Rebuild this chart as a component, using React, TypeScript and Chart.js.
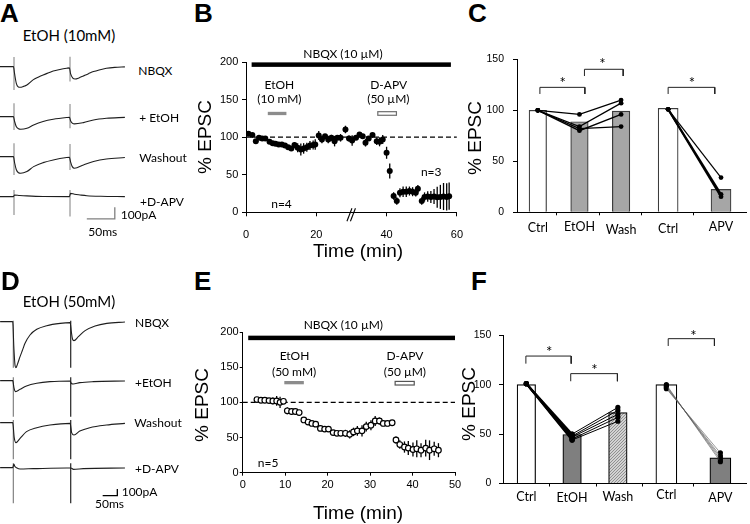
import React, { useEffect, useRef } from 'react';
import { Chart, registerables } from 'chart.js';

Chart.register(...registerables);

const ARIAL = "'Liberation Sans', Arial, sans-serif";
const LATO = "Lato, 'Open Sans', sans-serif";
Chart.defaults.font.family = ARIAL;
Chart.defaults.color = '#000';

// ---------------- Panel A / D traces: [time (ms), current (pA)] ----------------
const A_NBQX = [[-25,0],[-1,0],[1,-60],[4,-140],[7,-170],[11,-176],[17,-168],[23,-156],[34,-113],[44,-88],[52,-71],[62,-52],[70,-37],[82,-24],[94,-14],[99,-11],[101,-60],[105,-98],[109,-105],[116,-96],[124,-79],[133,-60],[142,-42],[152,-28],[165,-14],[180,-6],[198,-2]];
const A_ETOH = [[-25,0],[-1,0],[1,-40],[4,-85],[8,-103],[12,-107],[23,-99],[35,-71],[52,-42],[70,-23],[94,-8],[99,-6],[101,-35],[104,-55],[108,-62],[124,-51],[142,-28],[165,-14],[198,-6]];
const A_WASH = [[-25,0],[-1,0],[1,-50],[4,-110],[8,-138],[12,-142],[23,-127],[35,-85],[52,-51],[70,-28],[94,-8],[99,-6],[101,-45],[104,-85],[108,-99],[124,-71],[142,-42],[165,-20],[198,-8]];
const A_APV = [[-25,0],[-1,0],[1,14],[10,10],[23,6],[52,1],[99,0],[101,28],[108,20],[118,14],[130,8],[155,3],[198,0]];
// stimulus artifacts: [time, top, bottom]
const A_ART_NBQX = [[0,82,-198],[100,85,-127]];
const A_ART_ETOH = [[0,113,-113],[100,107,-99]];
const A_ART_WASH = [[0,113,-156],[100,107,-113]];
const A_ART_APV = [[0,57,-156],[100,57,-170]];
const A_SCALEBAR = [[130,-190],[180,-190],[180,-90]]; // 50 ms, 100 pA

const D_NBQX = [[-45,0],[-2,0],[2,-400],[6,-660],[9,-690],[14,-640],[23,-525],[32,-420],[40,-325],[57,-200],[80,-115],[114,-60],[160,-25],[194,-15],[198,-150],[202,-260],[207,-285],[222,-225],[245,-135],[279,-65],[319,-25],[381,-5]];
const D_ETOH = [[-45,0],[-2,0],[2,-100],[5,-150],[8,-165],[23,-130],[45,-80],[80,-40],[125,-15],[194,-5],[198,-40],[204,-50],[227,-30],[273,-15],[381,-5]];
const D_WASH = [[-45,0],[-2,0],[3,-220],[9,-300],[23,-235],[45,-135],[80,-75],[125,-35],[194,-10],[199,-150],[207,-185],[227,-125],[261,-75],[318,-35],[381,-10]];
const D_APV = [[-45,0],[-2,0],[2,55],[5,20],[11,0],[23,-20],[68,-15],[182,-5],[194,-5],[199,-10],[205,-25],[239,-15],[381,-5]];
const D_ART_NBQX = [[0,15,-690],[196,15,-690]];
const D_ART_ETOH = [[0,50,-540],[196,50,-540]];
const D_ART_WASH = [[0,40,-550],[196,40,-550]];
const D_ART_APV = [[0,65,-535],[196,65,-535]];
const D_SCALEBAR = [[305,-420],[355,-420],[355,-320]];

// ---------------- Panel B time course (EtOH 10 mM) ----------------
const B_TIME = [0.7,1.8,2.8,3.7,4.6,5.5,6.7,7.6,8.4,9.3,10.2,11.1,12.0,12.9,13.8,14.7,15.6,16.4,17.3,18.2,19.1,19.7,20.7,21.6,22.5,23.4,24.3,25.2,26.0,26.9,28.3,29.3,30.2,31.3,32.3,33.2,34.0,34.9,36.0,37.2,38.0,38.9,40.0,40.9,42.0,42.9,43.8,44.7,45.6,46.5,47.4,48.3,48.9,50.0,50.8,51.7,52.6,53.5,54.4,55.3,56.2,57.1,57.8];
const B_MEAN = [104.4,102.7,94.7,99.1,98.2,98.2,93.8,92,91.2,90.3,90.3,88.9,86.7,85,89.4,85.8,83.6,85,86.7,88.9,89.4,90.3,102.2,96.9,101.3,96.9,99.1,94.7,99.1,99.1,110.2,98.2,95.6,99.1,103.5,101.3,92.5,98.2,102.7,94.7,93.8,96.9,79.2,54.9,21.7,15,26.1,27.4,27.4,28.3,27.4,26.1,31.4,15,20.5,21,20.5,21,20,20.5,21,20.5,21.5];
const B_SEM = [2,2,3,3,2,2,2,2,2,2,2,3,3,3,4,6,8,7,6,6,6,7,6,5,3,5,4,7,3,5,5,4,7,3,3,3,5,3,3,5,6,6,8,10,5,5,6,7,7,6,6,5,5,5,6,7,8,10,14,16,18,18,18];

// ---------------- Panel E time course (EtOH 50 mM) ----------------
const E_TIME = [3.35,4.3,5.2,6.2,7.1,8.0,8.8,9.6,10.5,11.5,12.4,13.3,14.4,15.4,16.3,17.2,18.3,19.3,20.2,21.3,22.2,23.1,24.2,25.2,26.1,27.0,28.1,29.1,30.2,31.2,32.2,33.1,34.1,35.2,36.1,37.0,38.1,39.0,40.1,41.0,42.0,43.1,44.0,45.1,46.1];
const E_MEAN = [104,103,103,102.5,102,102,100,101.5,88,87,87,85.5,75,72,70,69,63,62,62,57,56,56,56,54.5,58,59.5,59.5,65.5,67.5,73.5,73.5,70,70,71,46.5,40,36.5,35,33,34,32,35,32,34,32];
const E_SEM = [2,2,2,3,5,7,8,4,5,5,4,3,3,3,3,4,4,4,4,3,3,4,5,6,6,7,8,7,7,7,5,4,4,4,5,6,8,10,10,12,10,12,14,10,10];

const BASELINE = 100;

// drug application bars: [start, end, level]
const B_NBQX_BAR = [1.6, 58.3, 196.5];
const B_ETOH_BAR = [6.2, 11.5, 131.5];
const B_APV_BAR = [37.5, 42.8, 131.5];
const E_NBQX_BAR = [1.3, 50, 191.6];
const E_ETOH_BAR = [9.8, 14.4, 128];
const E_APV_BAR = [35.9, 40.4, 127.2];

// annotation texts: [x, y, text]
const B_NOTES = [[27.6,211,'NBQX (10 µM)'],[9.5,169,'EtOH'],[9.5,150,'(10 mM)'],[40.6,169,'D-APV'],[40.5,150,'(50 µM)'],[10.1,11,'n=4'],[52.7,53,'n=3']];
const E_NOTES = [[23.7,209.7,'NBQX (10 µM)'],[12.2,165.6,'EtOH'],[12.1,143.2,'(50 mM)'],[38.2,165.6,'D-APV'],[38.2,143.2,'(50 µM)'],[6.0,13.8,'n=5']];
const B_BREAK = 30;

// ---------------- Panel C bars ----------------
const C_LABELS = ['Ctrl','EtOH','Wash','Ctrl','APV'];
const C_POS = [1, 2, 3, 4.13, 5.4];
const C_MEANS = [100, 88.8, 99.3, 102, 22.5];
const C_CELLS_ETOH = [[100,96,110],[100,84,107],[100,80,96],[100,82,84]];
const C_CELLS_APV = [[101,34],[101,17.6],[101,15.3]];
const C_BRACKETS = [[1.05,2.13,122.5,116],[2.12,3.05,140.2,133.6],[4.13,5.25,122.5,116]];
const C_STARS = [[1.6,129.7],[2.55,148.3],[4.7,129.7]];
const C_AXIS_TICKS = [1.445, 2.476, 3.5, 4.74];

// ---------------- Panel F bars ----------------
const F_LABELS = ['Ctrl','EtOH','Wash','Ctrl','APV'];
const F_POS = [1, 2, 3, 4.06, 5.24];
const F_MEANS = [100, 49.6, 71.8, 100, 26];
const F_CELLS_ETOH = [[101,50,77],[101,48,74],[101,47,70],[101,45,67],[101,44,63]];
const F_CELLS_APV = [[100,22],[99,24],[98,26],[97,28],[96,31]];
const F_BRACKETS = [[0.99,1.98,129,121.3],[1.97,2.99,111.2,103.5],[4.1,5.11,146.6,139.2]];
const F_STARS = [[1.5,136],[2.49,118.7],[4.65,152.7]];
const F_AXIS_TICKS = [1.515, 2.526, 3.53, 4.65];

// ---------------- styles ----------------
const C_LABEL_DY = [16, 14.7, 17.2, 16.7, 14.2];
const F_LABEL_DY = [13.2, 14.8, 13.2, 11.5, 14.2];
const C_APV_WIDTHS = [1.2, 2, 2];

const base: any = { animation: false, responsive: false, maintainAspectRatio: false, devicePixelRatio: 1, events: [] };
const noLegend = { legend: { display: false }, tooltip: { enabled: false } };

// ---------------- plugins ----------------
const errorBars = {
  id: 'errorBars',
  beforeDatasetsDraw(chart: any) {
    const ctx = chart.ctx;
    const ys = chart.scales.y;
    chart.data.datasets.forEach((ds: any, i: number) => {
      if (!ds.errors) return;
      const meta = chart.getDatasetMeta(i);
      ctx.save();
      ctx.strokeStyle = '#000';
      ctx.lineWidth = 1.3;
      meta.data.forEach((pt: any, j: number) => {
        const v = ds.data[j].y;
        const e = ds.errors[j];
        ctx.beginPath();
        ctx.moveTo(pt.x, ys.getPixelForValue(v - e));
        ctx.lineTo(pt.x, ys.getPixelForValue(v + e));
        ctx.stroke();
      });
      ctx.restore();
    });
  },
};

const texts = (items: any[]) => ({
  id: 'texts',
  afterDraw(chart: any) {
    const { ctx, scales } = chart;
    ctx.save();
    ctx.textAlign = 'center';
    ctx.textBaseline = 'middle';
    ctx.fillStyle = '#000';
    for (const it of items) {
      ctx.font = it.font;
      ctx.fillText(it.text, scales.x.getPixelForValue(it.x), scales.y.getPixelForValue(it.y) + (it.dy || 0));
    }
    ctx.restore();
  },
});

const drugBars = (items: any[]) => ({
  id: 'drugBars',
  afterDatasetsDraw(chart: any) {
    const { ctx, scales } = chart;
    ctx.save();
    for (const it of items) {
      const x0 = scales.x.getPixelForValue(it.bar[0]);
      const x1 = scales.x.getPixelForValue(it.bar[1]);
      const y = scales.y.getPixelForValue(it.bar[2]);
      ctx.fillStyle = it.fill;
      ctx.fillRect(x0, y - it.h / 2, x1 - x0, it.h);
      if (it.stroke) {
        ctx.strokeStyle = it.stroke;
        ctx.lineWidth = 1.2;
        ctx.strokeRect(x0, y - it.h / 2, x1 - x0, it.h);
      }
    }
    ctx.restore();
  },
});

const axisBreak = (at: number) => ({
  id: 'axisBreak',
  afterDraw(chart: any) {
    const { ctx, scales } = chart;
    const px = scales.x.getPixelForValue(at);
    const py = scales.y.getPixelForValue(0);
    ctx.save();
    ctx.strokeStyle = '#000';
    ctx.lineWidth = 1.1;
    for (const k of [0, 3.5]) {
      ctx.beginPath();
      ctx.moveTo(px - 4.5 + k, py + 9);
      ctx.lineTo(px + 0.5 + k, py - 4);
      ctx.stroke();
    }
    ctx.restore();
  },
});

function axis(o: any) {
  const a: any = {
    type: 'linear', min: o.min, max: o.max, offset: false,
    ticks: { padding: o.pad, font: { size: o.font, family: ARIAL }, color: '#000', maxRotation: 0, autoSkip: false },
    grid: { display: true, drawOnChartArea: false, drawTicks: true, tickLength: o.tl, color: '#000', lineWidth: 1, offset: false },
    border: { display: true, color: '#000', width: 1 },
    afterFit: (s: any) => { if (o.w != null) s.width = o.w; if (o.h != null) s.height = o.h; },
  };
  if (o.step) a.ticks.stepSize = o.step;
  if (o.ticks) {
    a.afterBuildTicks = (s: any) => { s.ticks = o.ticks.map((v: number) => ({ value: v })); };
    a.ticks.callback = () => '';
  }
  return a;
}

// ---------------- chart factories ----------------
function traceChart(trace: number[][], arts: number[][], artColors: string[], xr: number[], yr: number[], bar?: number[][], barColor?: string) {
  return () => ({
    type: 'line',
    data: {
      datasets: [
        { data: trace.map(([x, y]) => ({ x, y })), borderColor: '#1e1e1e', borderWidth: 1.1, pointRadius: 0, cubicInterpolationMode: 'monotone' },
        ...arts.map(([t, a, b], k) => ({ data: [{ x: t, y: a }, { x: t, y: b }], borderColor: artColors[k], borderWidth: 1.1, pointRadius: 0 })),
        ...(bar ? [{ data: bar.map(([x, y]) => ({ x, y })), borderColor: barColor, borderWidth: 1.3, pointRadius: 0 }] : []),
      ],
    },
    options: {
      ...base,
      layout: { padding: 0 },
      plugins: noLegend,
      scales: { x: { type: 'linear', min: xr[0], max: xr[1], display: false }, y: { type: 'linear', min: yr[0], max: yr[1], display: false } },
    },
  });
}

function timeCourse(o: any) {
  return () => ({
    type: 'line',
    data: {
      datasets: [
        {
          data: o.time.map((t: number, i: number) => ({ x: t, y: o.mean[i] })), errors: o.sem, showLine: false,
          pointRadius: o.open ? 2.8 : 3, pointBackgroundColor: o.open ? '#fff' : '#000', pointBorderColor: '#000', pointBorderWidth: o.open ? 1.2 : 0,
        },
        { data: [{ x: 0, y: BASELINE }, { x: o.xMax, y: BASELINE }], borderColor: '#000', borderWidth: 1.2, borderDash: [5, 3], pointRadius: 0 },
      ],
    },
    options: {
      ...base,
      layout: { padding: { left: 0, top: o.pt, right: o.pr, bottom: 0 } },
      plugins: noLegend,
      scales: {
        x: axis({ min: 0, max: o.xMax, step: o.xStep, pad: o.xPad, font: 11, tl: o.tl, h: o.xh }),
        y: axis({ min: 0, max: 200, step: 50, pad: o.yPad, font: 11, tl: o.tl, w: o.yw }),
      },
    },
    plugins: [errorBars, drugBars(o.bars), texts(o.notes.map(([x, y, text]: any) => ({ x, y, text, font: `12px ${LATO}` }))), ...(o.breakAt != null ? [axisBreak(o.breakAt)] : [])],
  });
}

function hatch() {
  const c = document.createElement('canvas');
  c.width = 3; c.height = 3;
  const g = c.getContext('2d') as CanvasRenderingContext2D;
  g.fillStyle = '#d2d2d2'; g.fillRect(0, 0, 3, 3);
  g.fillStyle = '#909090'; g.fillRect(2, 0, 1, 1); g.fillRect(1, 1, 1, 1); g.fillRect(0, 2, 1, 1);
  return g.createPattern(c, 'repeat');
}

function barPanel(o: any) {
  return () => {
    const colors = o.colors();
    const cellLines = [
      ...o.cellsA.map((c: number[]) => ({
        type: 'line', order: 1,
        data: c.map((v, i) => ({ x: o.pos[i], y: v })),
        borderColor: '#000', borderWidth: o.cellWidthA, pointRadius: o.ptR, pointBackgroundColor: '#000', pointBorderWidth: 0,
      })),
      ...(o.cellsA2 ? o.cellsA2.map((c: number[]) => ({
        type: 'line', order: 1,
        data: [{ x: o.pos[1], y: c[1] }, { x: o.pos[2], y: c[2] }],
        borderColor: '#000', borderWidth: 1, pointRadius: o.ptR, pointBackgroundColor: '#000', pointBorderWidth: 0,
      })) : []),
      ...o.cellsB.map((c: number[], k: number) => ({
        type: 'line', order: 1,
        data: [{ x: o.pos[3], y: c[0] }, { x: o.pos[4], y: c[1] }],
        borderColor: o.cellColorB, borderWidth: o.cellWidthsB[k], pointRadius: o.ptR, pointBackgroundColor: '#000', pointBorderWidth: 0,
      })),
    ];
    const brackets = o.brackets.map(([a, b, top, end]: number[]) => ({
      type: 'line', order: 2,
      data: [{ x: a, y: end }, { x: a, y: top }, { x: b, y: top }, { x: b, y: end }],
      borderColor: '#222', borderWidth: 1, pointRadius: 0,
    }));
    const bars = [
      { type: 'bar', order: 5, grouped: false, barThickness: o.thick[0],
        data: o.pos.slice(0, 3).map((p: number, i: number) => ({ x: p, y: o.means[i] })),
        backgroundColor: colors.slice(0, 3), borderColor: o.barBorder, borderWidth: 1.2 },
      { type: 'bar', order: 5, grouped: false, barThickness: o.thick[1],
        data: o.pos.slice(3).map((p: number, i: number) => ({ x: p, y: o.means[i + 3] })),
        backgroundColor: colors.slice(3), borderColor: o.barBorder, borderWidth: 1.2 },
    ];
    const notes = [
      ...o.labels.map((t: string, i: number) => ({ x: o.pos[i], y: 0, dy: o.labelDy[i], text: t, font: `12.5px ${LATO}` })),
      ...o.stars.map(([x, y]: number[]) => ({ x, y, dy: 3.5, text: '*', font: `15px ${LATO}` })),
    ];
    return {
      type: 'bar',
      data: { datasets: [...cellLines, ...brackets, ...bars] },
      options: {
        ...base,
        layout: { padding: { left: 0, top: o.pt, right: o.pr, bottom: 0 } },
        plugins: noLegend,
        scales: {
          x: axis({ min: o.xr[0], max: o.xr[1], pad: 0, font: 10, tl: 3, h: o.xh, ticks: o.axisTicks }),
          y: axis({ min: 0, max: 150, step: 50, pad: o.yPad, font: 10.5, tl: 4, w: o.yw }),
        },
      },
      plugins: [texts(notes)],
    };
  };
}

// ---------------- React ----------------
function ChartBox({ left, top, width, height, make }: any) {
  const ref = useRef<HTMLCanvasElement>(null);
  useEffect(() => {
    const chart = new Chart(ref.current as HTMLCanvasElement, make());
    return () => chart.destroy();
  }, []);
  return <canvas ref={ref} width={width} height={height} style={{ position: 'absolute', left, top, width, height }} />;
}

function Label({ x, y, text, size = 12, family = LATO, weight = 400, center = false, rotate = false }: any) {
  const tx = center ? '-50%' : '0';
  return (
    <div style={{
      position: 'absolute', left: x, top: y, transform: `translate(${tx}, -50%)` + (rotate ? ' rotate(-90deg)' : ''),
      fontFamily: family, fontSize: size, fontWeight: weight, lineHeight: 1, whiteSpace: 'nowrap', color: '#000',
    }}>{text}</div>
  );
}

function Letter({ x, y, text }: any) {
  return <div style={{ position: 'absolute', left: x, top: y, fontFamily: ARIAL, fontWeight: 700, fontSize: 26, lineHeight: '26px', color: '#000' }}>{text}</div>;
}

const A_X = [-25, 198.2];
const A_Y = [-250, 150];
const D_X = [-45.4, 381.2];
const D_Y = [-755, 100];
const A_ART_COLORS = ['#8a8a8a', '#8a8a8a'];
const D_ART_COLORS = ['#777', '#111'];

export default function App() {
  return (
    <div style={{ position: 'absolute', left: 0, top: 0, width: 750, height: 524, background: '#fff', overflow: 'hidden' }}>
      {/* Panel A */}
      <ChartBox left={0} top={49} width={125} height={47} make={traceChart(A_NBQX, A_ART_NBQX, A_ART_COLORS, A_X, A_Y)} />
      <ChartBox left={0} top={99} width={125} height={47} make={traceChart(A_ETOH, A_ART_ETOH, A_ART_COLORS, A_X, A_Y)} />
      <ChartBox left={0} top={139} width={125} height={47} make={traceChart(A_WASH, A_ART_WASH, A_ART_COLORS, A_X, A_Y)} />
      <ChartBox left={0} top={179} width={125} height={47} make={traceChart(A_APV, A_ART_APV, A_ART_COLORS, A_X, A_Y, A_SCALEBAR, '#808080')} />
      {/* Panel D */}
      <ChartBox left={0} top={315} width={125} height={57} make={traceChart(D_NBQX, D_ART_NBQX, D_ART_COLORS, D_X, D_Y)} />
      <ChartBox left={0} top={374} width={125} height={57} make={traceChart(D_ETOH, D_ART_ETOH, D_ART_COLORS, D_X, D_Y)} />
      <ChartBox left={0} top={416} width={125} height={57} make={traceChart(D_WASH, D_ART_WASH, D_ART_COLORS, D_X, D_Y)} />
      <ChartBox left={0} top={461} width={125} height={57} make={traceChart(D_APV, D_ART_APV, D_ART_COLORS, D_X, D_Y, D_SCALEBAR, '#000')} />

      {/* Panel B */}
      <ChartBox left={190} top={40} width={285} height={222} make={timeCourse({
        time: B_TIME, mean: B_MEAN, sem: B_SEM, open: false, xMax: 60, xStep: 20,
        pt: 22, pr: 12, xh: 49.7, yw: 56, xPad: 12, yPad: 3.7, tl: 4, breakAt: B_BREAK, notes: B_NOTES,
        bars: [{ bar: B_NBQX_BAR, h: 4.5, fill: '#000' }, { bar: B_ETOH_BAR, h: 3.3, fill: '#8c8c8c' }, { bar: B_APV_BAR, h: 3.6, fill: '#fff', stroke: '#6e6e6e' }],
      })} />
      {/* Panel E */}
      <ChartBox left={188} top={300} width={280} height={224} make={timeCourse({
        time: E_TIME, mean: E_MEAN, sem: E_SEM, open: true, xMax: 50, xStep: 10,
        pt: 32, pr: 13, xh: 51.3, yw: 54.7, xPad: 3, yPad: 1, tl: 3, notes: E_NOTES,
        bars: [{ bar: E_NBQX_BAR, h: 4.5, fill: '#000' }, { bar: E_ETOH_BAR, h: 3.3, fill: '#8c8c8c' }, { bar: E_APV_BAR, h: 3.6, fill: '#fff', stroke: '#555' }],
      })} />

      {/* Panel C */}
      <ChartBox left={460} top={40} width={290} height={222} make={barPanel({
        labels: C_LABELS, pos: C_POS, means: C_MEANS, cellsA: C_CELLS_ETOH, cellsB: C_CELLS_APV,
        cellWidthA: 1.3, cellWidthsB: C_APV_WIDTHS, cellColorB: '#000', ptR: 2.4,
        brackets: C_BRACKETS, stars: C_STARS, axisTicks: C_AXIS_TICKS, labelDy: C_LABEL_DY,
        colors: () => ['#fff', '#a6a6a6', '#a6a6a6', '#fff', '#a6a6a6'], barBorder: '#3c3c3c', thick: [17.5, 20],
        xr: [0.5, 6.0], pt: 19.3, pr: 2, xh: 49.7, yw: 57, yPad: 9,
      })} />
      {/* Panel F */}
      <ChartBox left={455} top={300} width={295} height={224} make={barPanel({
        labels: F_LABELS, pos: F_POS, means: F_MEANS,
        cellsA: F_CELLS_ETOH.map((c) => [c[0], c[1]]), cellsA2: F_CELLS_ETOH, cellsB: F_CELLS_APV,
        cellWidthA: 2, cellWidthsB: F_CELLS_APV.map(() => 0.6), cellColorB: '#555', ptR: 2.6,
        brackets: F_BRACKETS, stars: F_STARS, axisTicks: F_AXIS_TICKS, labelDy: F_LABEL_DY,
        colors: () => ['#fff', '#7f7f7f', hatch(), '#fff', '#7f7f7f'], barBorder: '#000', thick: [18.5, 21],
        xr: [0.49, 5.8], pt: 35.3, pr: 2, xh: 40.5, yw: 48, yPad: 7.7,
      })} />

      {/* Panel letters */}
      <Letter x={0} y={0} text="A" />
      <Letter x={194} y={0} text="B" />
      <Letter x={468} y={0} text="C" />
      <Letter x={1} y={267.5} text="D" />
      <Letter x={194} y={267.5} text="E" />
      <Letter x={471} y={267.5} text="F" />

      {/* Panel A texts */}
      <Label x={22.7} y={34.5} text="EtOH (10mM)" size={15} />
      <Label x={138.3} y={70.7} text="NBQX" />
      <Label x={139.3} y={118.3} text="+ EtOH" />
      <Label x={139.3} y={158.3} text="Washout" />
      <Label x={140} y={201.7} text="+D-APV" />
      <Label x={120.7} y={215} text="100pA" />
      <Label x={88.3} y={232.3} text="50ms" />
      {/* Panel D texts */}
      <Label x={22.7} y={301} text="EtOH (50mM)" size={15} />
      <Label x={135} y={323} text="NBQX" />
      <Label x={135} y={382.7} text="+EtOH" />
      <Label x={134.3} y={423} text="Washout" />
      <Label x={135} y={468.7} text="+D-APV" />
      <Label x={121.7} y={492} text="100pA" />
      <Label x={95} y={504.3} text="50ms" />

      {/* Axis titles */}
      <Label x={204} y={137} text="% EPSC" size={19} family={ARIAL} center rotate />
      <Label x={474} y={138} text="% EPSC" size={19} family={ARIAL} center rotate />
      <Label x={201} y={405} text="% EPSC" size={19} family={ARIAL} center rotate />
      <Label x={468} y={404} text="% EPSC" size={19} family={ARIAL} center rotate />
      <Label x={358} y={250} text="Time (min)" size={19} family={ARIAL} center />
      <Label x={358} y={512} text="Time (min)" size={19} family={ARIAL} center />
    </div>
  );
}
